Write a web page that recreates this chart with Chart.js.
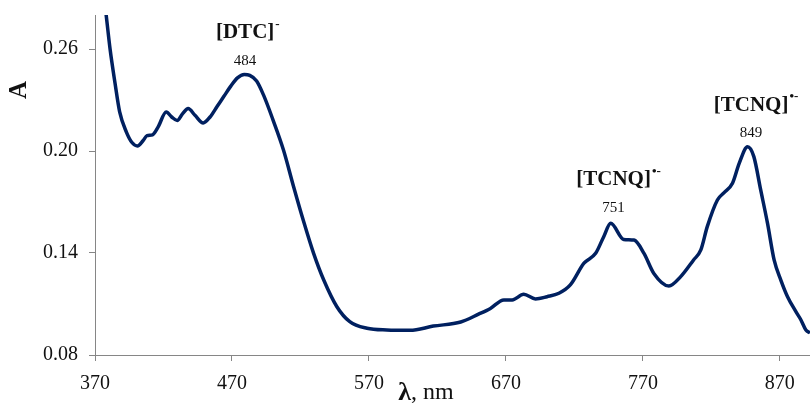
<!DOCTYPE html>
<html>
<head>
<meta charset="utf-8">
<script src="https://cdn.jsdelivr.net/npm/chart.js@4"></script>
<style>
  html, body { margin: 0; padding: 0; background: #fff; }
  #wrap { width: 810px; height: 403px; position: relative; }
</style>
</head>
<body>
<div id="wrap"><canvas id="spectrum"></canvas></div>
<script>
// wavelength (nm) and absorbance
const wavelength = [375, 378, 381, 384.6, 388, 393, 397, 401, 405, 408, 412, 416, 422, 426, 430, 434, 438, 443, 449, 454,
  459, 464, 469, 474, 479, 483, 488, 493, 500, 507.6, 515, 522, 529.6, 537, 546.6, 556, 568.6, 583, 600, 617,
  637, 650, 658.7, 668.5, 674.6, 683, 691.6, 700, 708.7, 717, 727, 735.5, 741.4, 746.5, 756, 763.5, 770.8, 778, 789, 797.6,
  807, 812.3, 817, 824.4, 829.3, 835.4, 840.3, 846.4, 851, 856, 861, 865.8, 870.7, 875.6, 881.7, 885.4, 889, 892];
const absorbance = [0.300, 0.281, 0.260, 0.240, 0.223, 0.211, 0.205, 0.203, 0.206, 0.209, 0.2095, 0.214, 0.223, 0.220, 0.218, 0.222, 0.225, 0.221, 0.2165, 0.220,
  0.226, 0.232, 0.238, 0.243, 0.245, 0.2445, 0.2412, 0.2330, 0.2182, 0.2006, 0.179, 0.1594, 0.1398, 0.1241, 0.1084, 0.0996, 0.0957, 0.0947, 0.0945, 0.0970,
  0.0994, 0.1040, 0.1074, 0.1124, 0.1124, 0.1157, 0.1130, 0.1143, 0.1163, 0.1212, 0.1340, 0.1398, 0.1496, 0.1575, 0.1480, 0.1476, 0.1398, 0.1280, 0.1206, 0.1261,
  0.1359, 0.1418, 0.1555, 0.1712, 0.1755, 0.1810, 0.1927, 0.2025, 0.1967, 0.1771, 0.1574, 0.1359, 0.1241, 0.1143, 0.1055, 0.1006, 0.0947, 0.0930];

const xTicks = [370, 470, 570, 670, 770, 870];
const yTicks = [0.08, 0.14, 0.20, 0.26];

// peak labels: [x nm, y A, title, superscript, value]
const peakLabels = [
  [479.6, 0.2694, "[DTC]", "-", "484"],
  [748.6, 0.1829, "[TCNQ]", "\u2022-", "751"],
  [849, 0.2270, "[TCNQ]", "\u2022-", "849"]
];

const serif = '"Liberation Serif", "DejaVu Serif", serif';
const axisGray = '#868686';

const points = wavelength.map((w, i) => ({ x: w, y: absorbance[i] }));

const labelPlugin = {
  id: 'labels',
  afterDatasetsDraw(chart) {
    const ctx = chart.ctx;
    const xs = chart.scales.x, ys = chart.scales.y;
    ctx.save();
    ctx.fillStyle = '#111';
    ctx.textBaseline = 'middle';
    peakLabels.forEach(p => {
      const px = xs.getPixelForValue(p[0]);
      const py = ys.getPixelForValue(p[1]);
      ctx.font = 'bold 21px ' + serif;
      const w = ctx.measureText(p[2]).width;
      ctx.textAlign = 'left';
      ctx.fillText(p[2], px - w / 2, py);
      ctx.font = 'bold 13px ' + serif;
      ctx.fillText(p[3], px + w / 2 + 1, py - 8);
      ctx.font = '15px ' + serif;
      ctx.textAlign = 'center';
      ctx.fillText(p[4], px, py + 28);
    });

    // axis titles
    ctx.save();
    ctx.translate(20, 90);
    ctx.rotate(-Math.PI / 2);
    ctx.font = 'bold 25px ' + serif;
    ctx.textAlign = 'center';
    ctx.fillText('A', 0, 0);
    ctx.restore();

    ctx.textAlign = 'left';
    ctx.font = 'bold 26px ' + serif;
    const lw = ctx.measureText('\u03bb').width;
    ctx.font = '24px ' + serif;
    const rw = ctx.measureText(', nm').width;
    const start = 426 - (lw + rw) / 2;
    ctx.font = 'bold 26px ' + serif;
    ctx.fillText('\u03bb', start, 393);
    ctx.font = '24px ' + serif;
    ctx.fillText(', nm', start + lw, 393);
    ctx.restore();
  }
};

new Chart(document.getElementById('spectrum'), {
  type: 'line',
  data: {
    datasets: [{
      data: points,
      borderColor: '#002060',
      borderWidth: 3.5,
      pointRadius: 0,
      fill: false,
      tension: 0.4,
      cubicInterpolationMode: 'monotone'
    }]
  },
  options: {
    responsive: true,
    maintainAspectRatio: false,
    animation: false,
    layout: { padding: { top: 15, right: 0, left: 0, bottom: 0 } },
    plugins: { legend: { display: false }, tooltip: { enabled: false } },
    scales: {
      x: {
        type: 'linear',
        min: 370,
        max: 892,
        afterBuildTicks: s => { s.ticks = xTicks.map(v => ({ value: v })); },
        afterFit: s => { s.height = 48; s.paddingLeft = 0; s.paddingRight = 0; },
        grid: { drawOnChartArea: false, color: axisGray, tickLength: 6 },
        border: { color: axisGray, width: 1 },
        ticks: { font: { family: serif, size: 20 }, color: '#111', padding: 11, maxRotation: 0 }
      },
      y: {
        min: 0.08,
        max: 0.28,
        afterBuildTicks: s => { s.ticks = yTicks.map(v => ({ value: v })); },
        afterFit: s => { s.width = 95; s.paddingTop = 0; s.paddingBottom = 0; },
        grid: { drawOnChartArea: false, color: axisGray, tickLength: 6 },
        border: { color: axisGray, width: 1 },
        ticks: { font: { family: serif, size: 20 }, color: '#111', padding: 11, callback: v => v.toFixed(2) }
      }
    }
  },
  plugins: [labelPlugin]
});
</script>
</body>
</html>
